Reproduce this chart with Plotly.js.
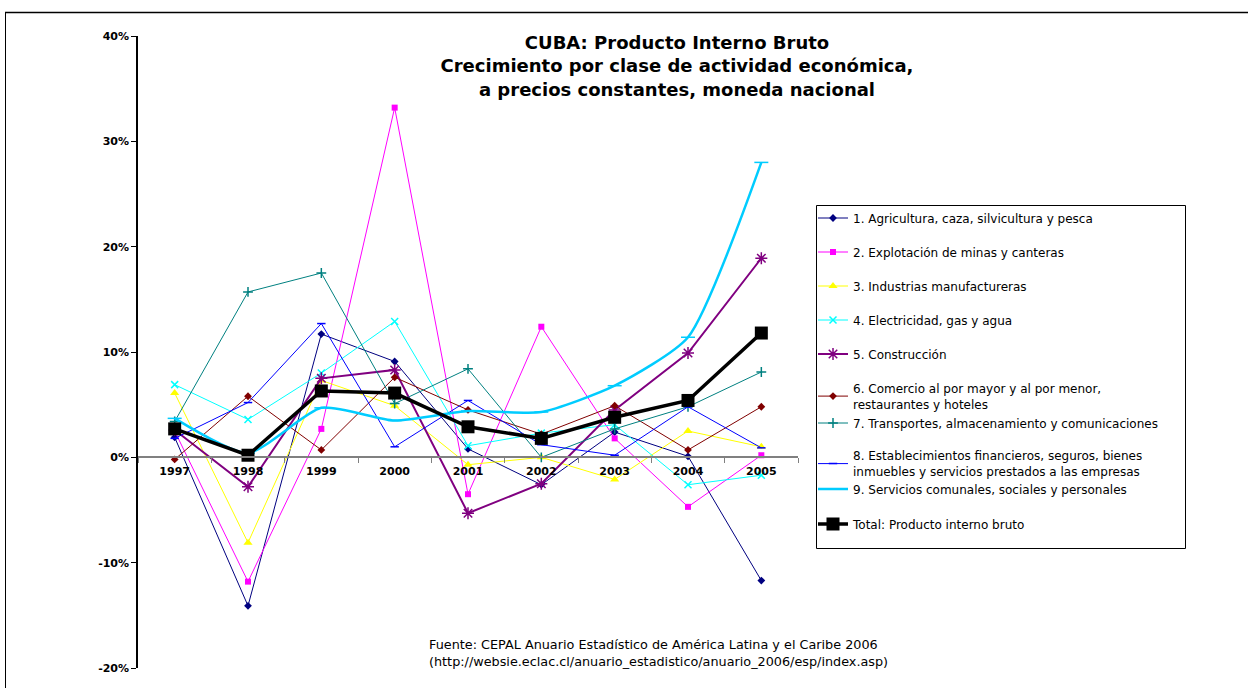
<!DOCTYPE html>
<html>
<head>
<meta charset="utf-8">
<script src="https://cdn.plot.ly/plotly-3.0.1.min.js"></script>
<style>
  html, body { margin: 0; padding: 0; background: #fff; }
  #chart { width: 1248px; height: 688px; }
</style>
</head>
<body>
<div id="chart"></div>
<script>
// ---- Data (percent growth) ----
const years = ['1997', '1998', '1999', '2000', '2001', '2002', '2003', '2004', '2005'];
const agricultura = [1.9, -14.1, 11.7, 9.1, 0.8, -2.6, 2.4, 0.1, -11.7];
const minas = [2.5, -11.8, 2.7, 33.2, -3.5, 12.4, 1.8, -4.7, 0.2];
const manufactura = [6.1, -8.1, 7.3, 4.9, -0.7, 0.0, -2.1, 2.5, 1.0];
const electricidad = [6.9, 3.6, 8.0, 12.9, 1.1, 2.3, 3.1, -2.6, -1.7];
const construccion = [2.6, -2.8, 7.5, 8.3, -5.3, -2.5, 4.5, 9.9, 18.9];
const comercio = [-0.2, 5.8, 0.7, 7.6, 4.5, 2.2, 4.9, 0.7, 4.8];
const transportes = [3.4, 15.7, 17.5, 5.1, 8.4, 0.0, 2.7, 4.8, 8.1];
const financieros = [1.8, 5.2, 12.7, 1.0, 5.4, 1.2, 0.2, 4.8, 0.9];
const servicios = [3.7, 0.4, 4.7, 3.5, 4.4, 4.3, 6.8, 11.4, 28.0];
const total = [2.7, 0.2, 6.3, 6.1, 2.9, 1.8, 3.8, 5.4, 11.8];

const seriesNames = [
  '1. Agricultura, caza, silvicultura y pesca',
  '2. Explotación de minas y canteras',
  '3. Industrias manufactureras',
  '4. Electricidad, gas y agua',
  '5. Construcción',
  '6. Comercio al por mayor y al por menor,<br>restaurantes y hoteles',
  '7. Transportes, almacenamiento y comunicaciones',
  '8. Establecimientos financieros, seguros, bienes<br>inmuebles y servicios prestados a las empresas',
  '9. Servicios comunales, sociales y personales',
  'Total: Producto interno bruto'
];
const tickVals = [-20, -10, 0, 10, 20, 30, 40];

// ---- Styles ----
const FONT = 'DejaVu Sans, Verdana, sans-serif';
const styles = [
  {color: '#000080', width: 1, symbol: 'diamond', size: 6},
  {color: '#FF00FF', width: 1, symbol: 'square', size: 6},
  {color: '#FFFF00', width: 1, symbol: 'triangle-up', size: 8},
  {color: '#00FFFF', width: 1, symbol: 'x-thin-open', size: 7},
  {color: '#800080', width: 2, symbol: 'asterisk-open', size: 10},
  {color: '#800000', width: 1, symbol: 'diamond', size: 6},
  {color: '#008080', width: 1, symbol: 'cross-thin-open', size: 7},
  {color: '#0000FF', width: 1, symbol: 'line-ew-open', size: 6},
  {color: '#00CCFF', width: 2.5, symbol: 'line-ew-open', size: 10},
  {color: '#000000', width: 3.5, symbol: 'square', size: 13}
];
// vertical centre (px) of each legend entry's text block
const legendCentres = [218, 252, 286, 320, 354, 396.5, 423, 464, 489, 524];

const data = [agricultura, minas, manufactura, electricidad, construccion,
              comercio, transportes, financieros, servicios, total];

// Plot area: x 138..798, y 36..668
const L = 138, R = 798, T = 36, B = 668, W = 1248, H = 688;
const pw = R - L, ph = B - T;
const px = v => (v - L) / pw;
const py = v => (B - v) / ph;

const traces = data.map((vals, i) => {
  const s = styles[i];
  const open = s.symbol.indexOf('open') >= 0;
  return {
    type: 'scatter',
    mode: 'lines+markers',
    x: years,
    y: vals,
    name: seriesNames[i],
    legend: i === 0 ? 'legend' : 'legend' + (i + 1),
    line: {color: s.color, width: s.width, shape: i === 8 ? 'spline' : 'linear', smoothing: 0.6},
    marker: {
      symbol: s.symbol, size: s.size, color: s.color,
      line: {color: s.color, width: open ? 1.5 : 0}
    },
    hoverinfo: 'x+y+name'
  };
});

const layout = {
  width: W, height: H,
  margin: {l: L, r: W - R, t: T, b: H - B, pad: 0},
  paper_bgcolor: '#ffffff',
  plot_bgcolor: 'rgba(0,0,0,0)',
  font: {family: FONT, color: '#000'},
  showlegend: true,
  title: {
    text: '<b>CUBA: Producto Interno Bruto<br>Crecimiento por clase de actividad económica,<br>a precios constantes, moneda nacional</b>',
    font: {size: 18, family: FONT, color: '#000'},
    x: 677 / W, xanchor: 'center', xref: 'container',
    y: 1 - 49 / H, yanchor: 'top', yref: 'container'
  },
  xaxis: {
    type: 'category',
    range: [-0.5, 8.5],
    anchor: 'free',
    position: py(457),
    showline: true, linecolor: '#808080', linewidth: 1.5,
    ticks: 'outside', ticklen: 5, tickcolor: '#808080', tickwidth: 1,
    tickson: 'boundaries',
    ticklabelstandoff: 4,
    showgrid: false, zeroline: false,
    tickfont: {size: 11, weight: 'bold', family: FONT},
    fixedrange: true
  },
  yaxis: {
    range: [-20, 40],
    tickvals: tickVals,
    ticktext: tickVals.map(v => v + '%'),
    showline: true, linecolor: '#000', linewidth: 1.5,
    ticks: 'outside', ticklen: 5, tickcolor: '#000',
    showgrid: false, zeroline: false,
    tickfont: {size: 11, weight: 'bold', family: FONT},
    fixedrange: true
  },
  annotations: [{
    text: 'Fuente: CEPAL Anuario Estadístico de América Latina y el Caribe 2006<br>(http://websie.eclac.cl/anuario_estadistico/anuario_2006/esp/index.asp)',
    xref: 'paper', yref: 'paper',
    x: px(427), y: py(653), xanchor: 'left', yanchor: 'middle', align: 'left',
    showarrow: false,
    font: {size: 12.8, family: FONT, color: '#000'}
  }],
  shapes: [
    {type: 'line', xref: 'paper', yref: 'paper', x0: px(5), x1: px(1248), y0: py(12.5), y1: py(12.5), line: {color: '#000', width: 1.5}},
    {type: 'line', xref: 'paper', yref: 'paper', x0: px(5.5), x1: px(5.5), y0: py(12), y1: py(688), line: {color: '#000', width: 1}},
    {type: 'rect', xref: 'paper', yref: 'paper', x0: px(816.5), x1: px(1185.5), y0: py(205.5), y1: py(548.5),
     line: {color: '#000', width: 1}, fillcolor: '#fff', layer: 'above'}
  ]
};

legendCentres.forEach((c, i) => {
  const key = i === 0 ? 'legend' : 'legend' + (i + 1);
  layout[key] = {
    x: px(813), y: py(c), xanchor: 'left', yanchor: 'middle',
    xref: 'paper', yref: 'paper',
    bgcolor: 'rgba(0,0,0,0)', borderwidth: 0,
    font: {size: 12, family: FONT, color: '#000'},
    itemwidth: 30
  };
});

Plotly.newPlot('chart', traces, layout, {displayModeBar: false, responsive: false});
</script>
</body>
</html>
